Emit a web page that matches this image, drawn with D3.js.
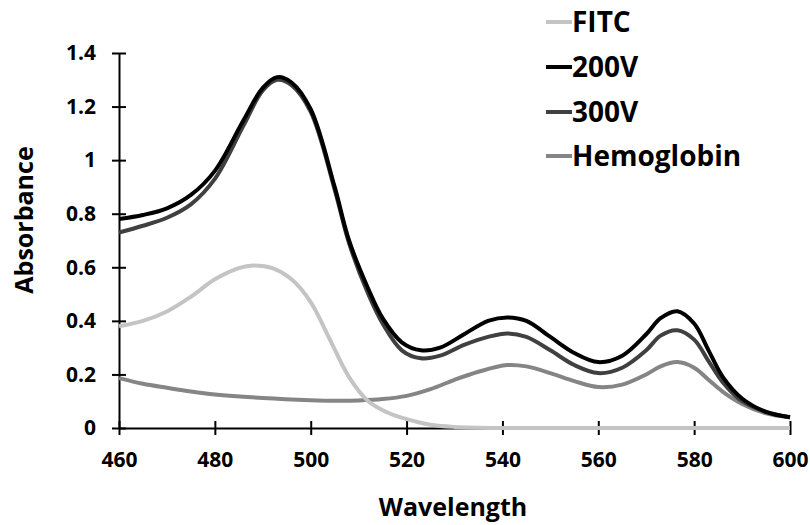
<!DOCTYPE html>
<html lang="en">
<head>
    <meta charset="UTF-8">
    <title>Absorbance</title>
    <script src="https://cdn.jsdelivr.net/npm/d3@7"></script>
    <style>
        body { margin: 0; background: #fff; }
        text { font-family: "Open Sans", "Noto Sans", sans-serif; font-weight: bold; fill: #000; }
    </style>
</head>
<body>
    <script>
        var xTicks = [460, 480, 500, 520, 540, 560, 580, 600];
        var yTicks = [0, 0.2, 0.4, 0.6, 0.8, 1, 1.2, 1.4];

        var names = ["FITC", "200V", "300V", "Hemoglobin"];
        var colors = ["#c4c4c4", "#000000", "#404040", "#858585"];

        var fitcX = [460, 465, 470, 475, 480, 485, 488, 492, 496, 500, 504, 508, 512, 516, 520, 525, 530, 540, 560, 580, 600];
        var fitcY = [0.38, 0.40, 0.435, 0.49, 0.555, 0.597, 0.607, 0.597, 0.555, 0.47, 0.33, 0.19, 0.10, 0.058, 0.033, 0.012, 0.004, 0, 0, 0, 0];

        var v200X = [460, 465, 470, 475, 480, 486, 490, 493, 496, 500, 505, 508, 512, 515, 519, 523, 527, 532, 537, 541, 545, 550, 555, 560, 565, 570, 573, 576.5, 580, 583, 586, 590, 595, 600];
        var v200Y = [0.78, 0.795, 0.82, 0.87, 0.96, 1.15, 1.27, 1.31, 1.29, 1.19, 0.90, 0.70, 0.52, 0.41, 0.32, 0.29, 0.30, 0.35, 0.40, 0.413, 0.40, 0.34, 0.28, 0.246, 0.27, 0.35, 0.41, 0.436, 0.39, 0.29, 0.19, 0.11, 0.06, 0.04];

        var v300X = [460, 465, 470, 475, 480, 486, 490, 493, 496, 500, 505, 508, 512, 515, 519, 523, 527, 532, 537, 541, 545, 550, 555, 560, 565, 570, 573, 576.5, 580, 583, 586, 590, 595, 600];
        var v300Y = [0.73, 0.755, 0.785, 0.835, 0.93, 1.13, 1.26, 1.30, 1.28, 1.18, 0.89, 0.69, 0.50, 0.39, 0.29, 0.26, 0.27, 0.31, 0.34, 0.353, 0.34, 0.29, 0.235, 0.205, 0.225, 0.29, 0.345, 0.365, 0.33, 0.25, 0.17, 0.10, 0.06, 0.04];

        var hemoX = [460, 465, 470, 475, 480, 490, 500, 505, 510, 515, 520, 525, 530, 535, 541, 545, 550, 555, 560, 565, 570, 573, 576.5, 580, 583, 586, 590, 595, 600];
        var hemoY = [0.186, 0.165, 0.15, 0.136, 0.125, 0.112, 0.104, 0.102, 0.103, 0.108, 0.12, 0.145, 0.18, 0.21, 0.235, 0.23, 0.205, 0.175, 0.153, 0.162, 0.2, 0.23, 0.246, 0.225, 0.18, 0.135, 0.09, 0.055, 0.04];

        var seriesX = [fitcX, v200X, v300X, hemoX];
        var seriesY = [fitcY, v200Y, v300Y, hemoY];

        var width = 810, height = 525;
        var margin = {left: 119, right: 20, top: 53, bottom: 97};

        var svg = d3.select("body").append("svg").attr("width", width).attr("height", height);

        var x = d3.scaleLinear().domain([460, 600]).range([margin.left, 790]);
        var y = d3.scaleLinear().domain([0, 1.4]).range([height - margin.bottom, margin.top]);

        // axes, ticks cross the line
        var xAxis = svg.append("g").attr("transform", "translate(0," + y(0) + ")")
            .call(d3.axisBottom(x).tickValues(xTicks).tickSize(0).tickPadding(24).tickFormat(d3.format("d")));
        xAxis.select(".domain").attr("stroke", "#000").attr("stroke-width", 2);
        xAxis.selectAll(".tick").append("line").attr("y1", -7).attr("y2", 7).attr("stroke", "#000").attr("stroke-width", 2);
        xAxis.selectAll(".tick text").style("font-size", "21px");

        var yAxis = svg.append("g").attr("transform", "translate(" + x(460) + ",0)")
            .call(d3.axisLeft(y).tickValues(yTicks).tickSize(0).tickPadding(23).tickFormat(d3.format("")));
        yAxis.select(".domain").attr("stroke", "#000").attr("stroke-width", 2);
        yAxis.selectAll(".tick").append("line").attr("x1", -7).attr("x2", 7).attr("stroke", "#000").attr("stroke-width", 2);
        yAxis.selectAll(".tick text").style("font-size", "21px");

        svg.append("text").attr("x", 453).attr("y", 516).attr("text-anchor", "middle")
            .style("font-size", "25px").text("Wavelength");
        svg.append("text").attr("transform", "translate(33,220) rotate(-90)")
            .attr("text-anchor", "middle").style("font-size", "25px").text("Absorbance");

        var line = d3.line().curve(d3.curveCatmullRom.alpha(0.5))
            .x(function(d) { return x(d[0]); })
            .y(function(d) { return y(Math.max(0, d[1])); });

        var drawOrder = [3, 0, 2, 1];
        drawOrder.forEach(function(i) {
            var pts = seriesX[i].map(function(v, j) { return [v, seriesY[i][j]]; });
            svg.append("path").datum(pts).attr("d", line)
                .attr("fill", "none").attr("stroke", colors[i]).attr("stroke-width", 4)
                .attr("stroke-linejoin", "round");
        });

        // legend
        var legY = [22, 67, 112, 156];
        var leg = svg.append("g");
        names.forEach(function(n, i) {
            leg.append("line").attr("x1", 546).attr("x2", 572).attr("y1", legY[i]).attr("y2", legY[i])
                .attr("stroke", colors[i]).attr("stroke-width", 4);
            leg.append("text").attr("x", 572).attr("y", legY[i]).attr("dy", "0.36em")
                .style("font-size", "28px").text(n);
        });
    </script>
</body>
</html>
